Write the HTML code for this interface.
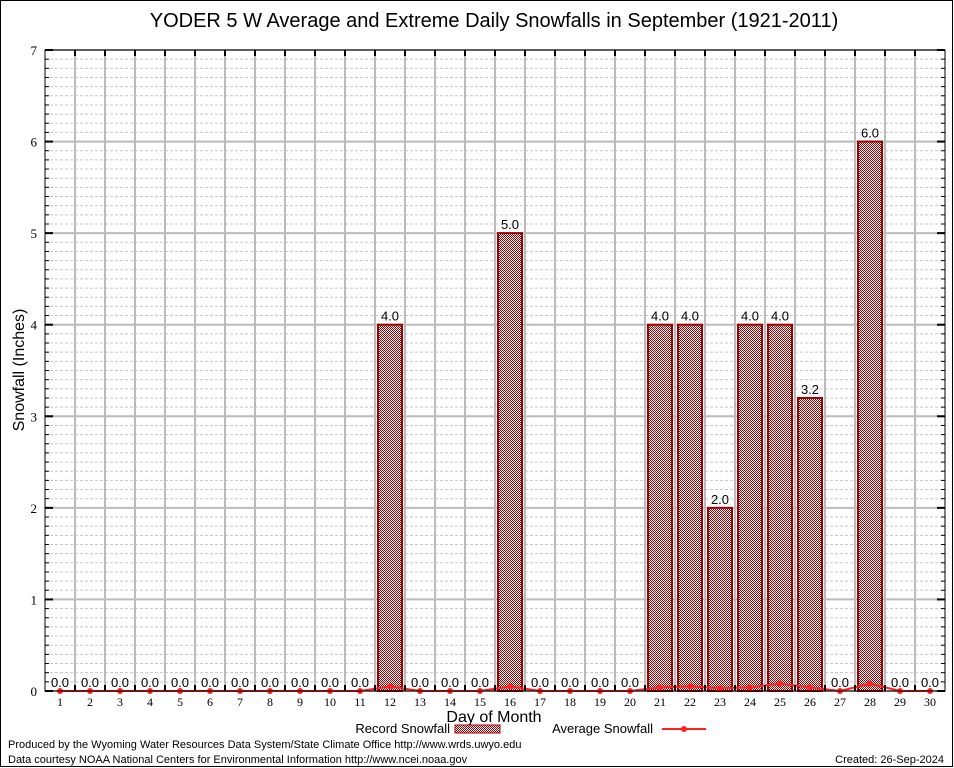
<!DOCTYPE html>
<html><head><meta charset="utf-8"><style>
html,body{margin:0;padding:0;background:#fff}
svg{display:block;font-family:"Liberation Sans",sans-serif}
</style></head><body>
<svg id="c" width="954" height="768" viewBox="0 0 954 768">
<defs>
<pattern id="chk" width="2" height="2" patternUnits="userSpaceOnUse">
<rect width="2" height="2" fill="#fff" shape-rendering="crispEdges"/><rect width="1" height="1" fill="#a00000" shape-rendering="crispEdges"/><rect x="1" y="1" width="1" height="1" fill="#a00000" shape-rendering="crispEdges"/>
</pattern>
</defs>
<rect x="0.5" y="0.5" width="952" height="766" fill="#fff" stroke="#000"/>
<text x="494" y="27" font-size="20" text-anchor="middle">YODER 5 W Average and Extreme Daily Snowfalls in September (1921-2011)</text>
<g id="grid"></g>
<g id="bars"></g>
<g id="avg"></g>
<rect x="45" y="50" width="900" height="641" fill="none" stroke="#000" stroke-width="1"/>
<g id="axes"></g>
<text x="24" y="370" font-size="16" text-anchor="middle" transform="rotate(-90 24 370)">Snowfall (Inches)</text>
<text x="494" y="722" font-size="16" text-anchor="middle">Day of Month</text>
<g>
<text x="450" y="733" font-size="13" text-anchor="end">Record Snowfall</text>
<rect x="455" y="725" width="45" height="8" fill="url(#chk)" stroke="#a00000"/>
</g>
<g>
<text x="653" y="733" font-size="13" text-anchor="end">Average Snowfall</text>
<line x1="662" y1="729" x2="706" y2="729" stroke="#ff2020" stroke-width="2"/>
<circle cx="684" cy="729" r="3" fill="#ff2020"/>
</g>
<text x="8" y="748" font-size="11">Produced by the Wyoming Water Resources Data System/State Climate Office http://www.wrds.uwyo.edu</text>
<text x="8" y="763" font-size="11">Data courtesy NOAA National Centers for Environmental Information http://www.ncei.noaa.gov</text>
<text x="944" y="763" font-size="11" text-anchor="end">Created: 26-Sep-2024</text>
</svg>
<script>
const days = Array.from({length:30},(_,i)=>i+1);
const records = [0,0,0,0,0,0,0,0,0,0,0,4,0,0,0,5,0,0,0,0,4,4,2,4,4,3.2,0,6,0,0];
const averages = [0,0,0,0,0,0,0,0,0,0,0,0.05,0,0,0,0.05,0,0,0,0,0.04,0.05,0.03,0.04,0.08,0.04,0,0.08,0,0];
const yTicks = [0,1,2,3,4,5,6,7];
const NS='http://www.w3.org/2000/svg';
const L=45,R=945,T=50,B=691,YMAX=7;
const xs=d=>L+(d-0.5)*(R-L)/30;
const ys=v=>B-v*(B-T)/YMAX;
function mk(tag,attrs,parent){const e=document.createElementNS(NS,tag);for(const k in attrs)e.setAttribute(k,attrs[k]);parent.appendChild(e);return e;}
const grid=document.getElementById('grid'),bars=document.getElementById('bars'),avg=document.getElementById('avg'),axes=document.getElementById('axes');
for(let i=1;i<YMAX*10;i++){if(i%10===0)continue;const l=mk('line',{x1:L,x2:R,y1:ys(i/10),y2:ys(i/10),stroke:'#c8c8c8','stroke-dasharray':'3,2'},grid);


mk('line',{x1:L,x2:L+4,y1:ys(i/10),y2:ys(i/10),stroke:'#000'},axes);mk('line',{x1:R-4,x2:R,y1:ys(i/10),y2:ys(i/10),stroke:'#000'},axes);}
yTicks.forEach(v=>{const l=mk('line',{x1:L,x2:R,y1:ys(v),y2:ys(v),stroke:'#bbb','stroke-width':2},grid);


mk('line',{x1:L,x2:L+8,y1:ys(v),y2:ys(v),stroke:'#000','stroke-width':2},axes);mk('line',{x1:R-8,x2:R,y1:ys(v),y2:ys(v),stroke:'#000','stroke-width':2},axes);
const t=mk('text',{x:L-8,y:ys(v)+5,'font-size':13,'text-anchor':'end','font-family':'Liberation Serif'},axes);t.textContent=v;

});
for(let k=1;k<30;k++){const x=L+k*30;const l=mk('line',{x1:x,x2:x,y1:T,y2:B,stroke:'#bbb','stroke-width':2},grid);


mk('line',{x1:x,x2:x,y1:T,y2:T+6,stroke:'#000','stroke-width':2},axes);mk('line',{x1:x,x2:x,y1:B-6,y2:B,stroke:'#000','stroke-width':2},axes);}
days.forEach((d,i)=>{const v=records[i];
if(v>0){const r=mk('rect',{x:xs(d)-12,y:ys(v),width:24,height:B-ys(v),fill:'url(#chk)',stroke:'#a00000','stroke-width':2},bars);

}
const t=mk('text',{x:xs(d),y:ys(v)-4,'font-size':13,'text-anchor':'middle'},bars);t.textContent=v.toFixed(1);


const xl=mk('text',{x:xs(d),y:B+15,'font-size':12,'text-anchor':'middle','font-family':'Liberation Serif'},axes);xl.textContent=d;

});
const pts=days.map((d,i)=>xs(d)+','+ys(averages[i])).join(' ');
const pl=mk('polyline',{points:pts,fill:'none',stroke:'#ff2020','stroke-width':2},avg);


days.forEach((d,i)=>{const c=mk('circle',{cx:xs(d),cy:ys(averages[i]),r:3,fill:'#ff2020'},avg);

});
</script>
</body></html>
